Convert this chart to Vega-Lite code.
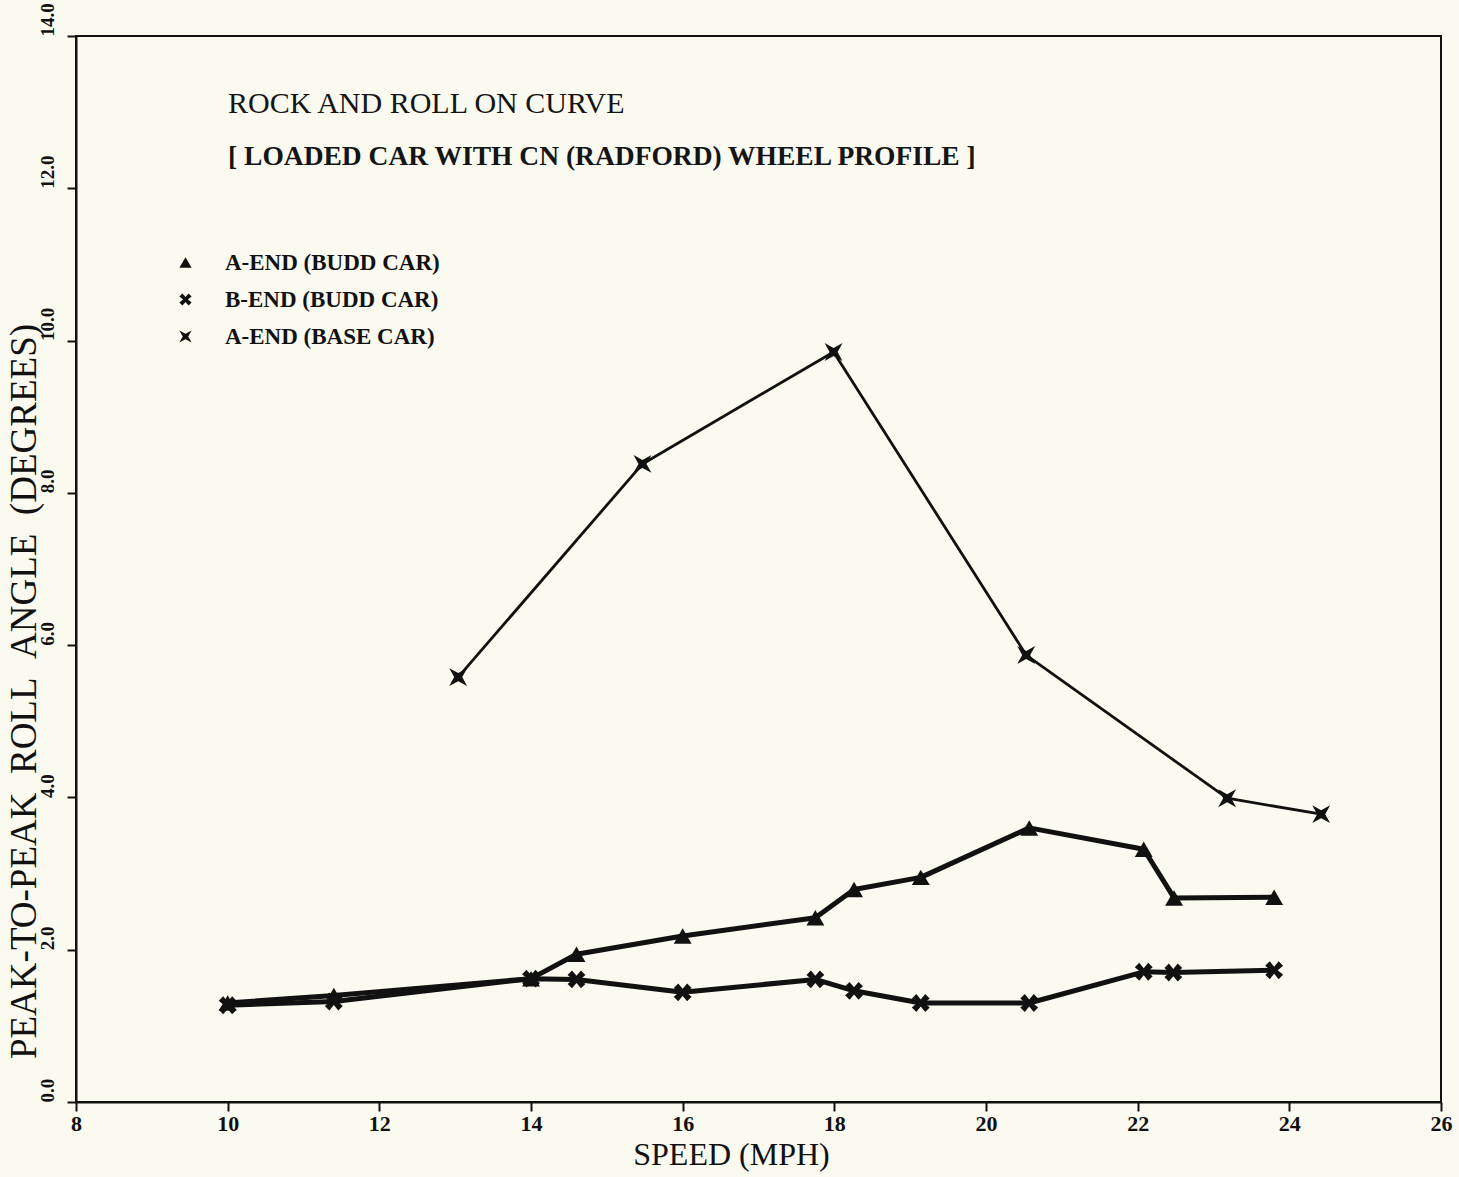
{
  "$schema": "https://vega.github.io/schema/vega-lite/v6.json",
  "width": 1365,
  "height": 1066,
  "autosize": "none",
  "padding": {"left": 76, "top": 36, "right": 18, "bottom": 75},
  "background": "#fbfaf1",
  "title": {
    "text": "ROCK AND ROLL ON CURVE",
    "subtitle": "[ LOADED CAR WITH CN (RADFORD) WHEEL PROFILE ]",
    "anchor": "start",
    "frame": "group",
    "orient": "top",
    "offset": -136,
    "dx": 152,
    "dy": 32,
    "font": "Liberation Serif",
    "fontSize": 30,
    "fontWeight": "normal",
    "color": "#151515",
    "subtitleFont": "Liberation Serif",
    "subtitleFontSize": 27.5,
    "subtitleFontWeight": "bold",
    "subtitleColor": "#151515",
    "subtitlePadding": 24
  },
  "data": {
    "values": [
      {"series": "A-END (BUDD CAR)", "speed": 10.0, "angle": 1.30},
      {"series": "A-END (BUDD CAR)", "speed": 11.4, "angle": 1.40},
      {"series": "A-END (BUDD CAR)", "speed": 14.0, "angle": 1.62},
      {"series": "A-END (BUDD CAR)", "speed": 14.6, "angle": 1.94},
      {"series": "A-END (BUDD CAR)", "speed": 16.0, "angle": 2.18},
      {"series": "A-END (BUDD CAR)", "speed": 17.75, "angle": 2.42},
      {"series": "A-END (BUDD CAR)", "speed": 18.26, "angle": 2.79},
      {"series": "A-END (BUDD CAR)", "speed": 19.14, "angle": 2.95},
      {"series": "A-END (BUDD CAR)", "speed": 20.57, "angle": 3.60},
      {"series": "A-END (BUDD CAR)", "speed": 22.08, "angle": 3.32},
      {"series": "A-END (BUDD CAR)", "speed": 22.48, "angle": 2.68},
      {"series": "A-END (BUDD CAR)", "speed": 23.8, "angle": 2.69},
      {"series": "B-END (BUDD CAR)", "speed": 10.0, "angle": 1.27},
      {"series": "B-END (BUDD CAR)", "speed": 11.4, "angle": 1.32},
      {"series": "B-END (BUDD CAR)", "speed": 14.0, "angle": 1.62},
      {"series": "B-END (BUDD CAR)", "speed": 14.6, "angle": 1.61},
      {"series": "B-END (BUDD CAR)", "speed": 16.0, "angle": 1.44},
      {"series": "B-END (BUDD CAR)", "speed": 17.75, "angle": 1.61},
      {"series": "B-END (BUDD CAR)", "speed": 18.26, "angle": 1.46},
      {"series": "B-END (BUDD CAR)", "speed": 19.14, "angle": 1.30},
      {"series": "B-END (BUDD CAR)", "speed": 20.57, "angle": 1.30},
      {"series": "B-END (BUDD CAR)", "speed": 22.08, "angle": 1.71},
      {"series": "B-END (BUDD CAR)", "speed": 22.47, "angle": 1.70},
      {"series": "B-END (BUDD CAR)", "speed": 23.8, "angle": 1.73},
      {"series": "A-END (BASE CAR)", "speed": 13.04, "angle": 5.58},
      {"series": "A-END (BASE CAR)", "speed": 15.47, "angle": 8.38},
      {"series": "A-END (BASE CAR)", "speed": 17.99, "angle": 9.85},
      {"series": "A-END (BASE CAR)", "speed": 20.53, "angle": 5.87},
      {"series": "A-END (BASE CAR)", "speed": 23.18, "angle": 3.99},
      {"series": "A-END (BASE CAR)", "speed": 24.42, "angle": 3.78}
    ]
  },
  "encoding": {
    "x": {
      "field": "speed",
      "type": "quantitative",
      "scale": {"domain": [8, 26], "nice": false, "zero": false},
      "axis": {
        "title": "SPEED (MPH)",
        "values": [8, 10, 12, 14, 16, 18, 20, 22, 24, 26],
        "format": "d",
        "grid": false,
        "domain": true,
        "domainColor": "#111",
        "domainWidth": 2,
        "ticks": true,
        "tickColor": "#111",
        "tickWidth": 2,
        "tickSize": 9,
        "labelFont": "Liberation Serif",
        "labelFontWeight": "bold",
        "labelFontSize": 22,
        "labelColor": "#111",
        "labelPadding": 2,
        "labelFlush": false,
        "labelOverlap": false,
        "titleFont": "Liberation Serif",
        "titleFontSize": 32,
        "titleFontWeight": "normal",
        "titleColor": "#111",
        "titleX": 655,
        "titleY": 52,
        "titleBaseline": "middle",
        "titleAlign": "center"
      }
    },
    "y": {
      "field": "angle",
      "type": "quantitative",
      "scale": {"domain": [0, 14], "nice": false},
      "axis": {
        "title": "PEAK-TO-PEAK\u00a0\u00a0ROLL\u00a0\u00a0ANGLE\u00a0\u00a0(DEGREES)",
        "values": [0, 2, 4, 6, 8, 10, 12, 14],
        "format": ".1f",
        "grid": false,
        "domain": true,
        "domainColor": "#111",
        "domainWidth": 2,
        "ticks": true,
        "tickColor": "#111",
        "tickWidth": 2,
        "tickSize": 9,
        "labelFont": "Liberation Serif",
        "labelFontWeight": "bold",
        "labelFontSize": 19,
        "labelColor": "#111",
        "labelAngle": -90,
        "labelAlign": "left",
        "labelBaseline": "bottom",
        "labelPadding": 10,
        "labelFlush": false,
        "labelOverlap": false,
        "titleFont": "Liberation Serif",
        "titleFontSize": 37,
        "titleFontWeight": "normal",
        "titleColor": "#111",
        "titleAngle": -90,
        "titleX": -52,
        "titleY": 655,
        "titleBaseline": "middle",
        "titleAlign": "center"
      }
    }
  },
  "layer": [
    {
      "transform": [{"filter": "datum.series !== 'A-END (BASE CAR)'"}],
      "mark": {"type": "line", "color": "#111", "strokeWidth": 5, "strokeJoin": "round"},
      "encoding": {"detail": {"field": "series", "type": "nominal"}}
    },
    {
      "transform": [{"filter": "datum.series === 'A-END (BASE CAR)'"}],
      "mark": {"type": "line", "color": "#111", "strokeWidth": 2.8, "strokeJoin": "round"},
      "encoding": {"detail": {"field": "series", "type": "nominal"}}
    },
    {
      "mark": {"type": "point", "filled": true, "color": "#111", "opacity": 1, "size": 320},
      "encoding": {
        "shape": {
          "field": "series",
          "type": "nominal",
          "scale": {
            "domain": ["A-END (BUDD CAR)", "B-END (BUDD CAR)", "A-END (BASE CAR)"],
            "range": [
              "triangle-up",
              "M-1,-0.5 L-0.5,-1 L0,-0.4 L0.5,-1 L1,-0.5 L0.4,0 L1,0.5 L0.5,1 L0,0.4 L-0.5,1 L-1,0.5 L-0.4,0 Z",
              "M-1,-1 L0,-0.45 L1,-1 L0.45,0 L1,1 L0,0.45 L-1,1 L-0.45,0 Z"
            ]
          },
          "legend": {
            "title": null,
            "orient": "none",
            "legendX": 98,
            "legendY": 215,
            "padding": 0,
            "symbolSize": 150,
            "symbolFillColor": "#111",
            "symbolStrokeColor": "#111",
            "symbolStrokeWidth": 0,
            "labelFont": "Liberation Serif",
            "labelFontWeight": "bold",
            "labelFontSize": 23,
            "labelColor": "#111",
            "labelLimit": 0,
            "labelOffset": 28,
            "rowPadding": 13
          }
        }
      }
    }
  ],
  "config": {
    "view": {"stroke": "#111", "strokeWidth": 2, "fill": null}
  }
}
